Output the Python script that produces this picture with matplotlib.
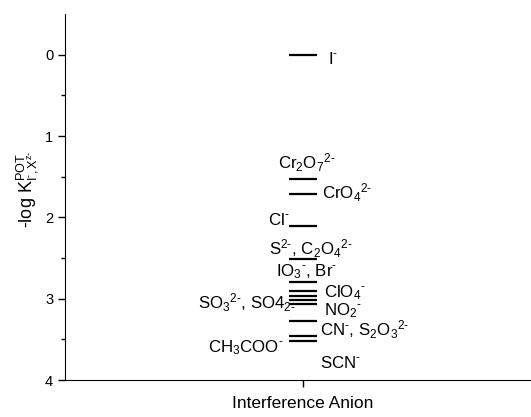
import numpy as np
import matplotlib.pyplot as plt

plt.rcParams['font.family'] = ['Liberation Sans', 'DejaVu Sans']
plt.rcParams['mathtext.fontset'] = 'custom'
plt.rcParams['mathtext.rm'] = 'Liberation Sans'
plt.rcParams['mathtext.it'] = 'Liberation Sans'
plt.rcParams['mathtext.default'] = 'regular'

# valores de -log K
valores = np.array([0.0, 1.53, 1.71, 2.11, 2.51, 2.80, 2.90, 2.97, 3.02, 3.07, 3.28, 3.46, 3.52])

# rótulos dos ânions e onde ficam (x, y em dados); hífen curto nos expoentes
rotulos = ['I$^{‐}$', 'Cr$_2$O$_7$$^{2‐}$', 'CrO$_4$$^{2‐}$', 'Cl$^{‐}$',
           'S$^{2‐}$, C$_2$O$_4$$^{2‐}$', 'IO$_3$$^{‐}$, Br$^{‐}$', 'ClO$_4$$^{‐}$',
           'SO$_3$$^{2‐}$, SO4$_{2‐}$', 'NO$_2$$^{‐}$', 'CN$^{‐}$, S$_2$O$_3$$^{2‐}$',
           'CH$_3$COO$^{‐}$', 'SCN$^{‐}$']
rot_x = [1.107, 0.895, 1.080, 0.853, 0.857, 0.887, 1.088, 0.560, 1.088, 1.071, 0.600, 1.071]
rot_y = [0.11, 1.40, 1.77, 2.10, 2.46, 2.72, 2.98, 3.12, 3.20, 3.46, 3.66, 3.85]

fig = plt.figure(figsize=(5.31, 4.17), dpi=100)
ax = fig.add_axes([0.1224, 0.0887, 0.896, 0.8777])

ax.hlines(valores, 0.94, 1.06, color='black', linewidth=1.6)

for r, x, y in zip(rotulos, rot_x, rot_y):
    ax.text(x, y, r, fontsize=12.2, ha='left', va='baseline')

ax.set_xlim(0, 2)
ax.set_ylim(4, -0.5)
ax.set_xticks([1])
ax.set_xticklabels([''])
ax.set_yticks([0, 1, 2, 3, 4])
ax.set_yticks([0.5, 1.5, 2.5, 3.5], minor=True)
ax.tick_params(axis='both', direction='out', labelsize=10.5, width=1, length=5)
ax.tick_params(axis='y', which='minor', direction='out', width=1, length=3)
ax.spines['top'].set_visible(False)
ax.spines['right'].set_visible(False)

ax.set_xlabel('Interference Anion', fontsize=12.5)
ax.xaxis.set_label_coords(0.5, -0.045)
ax.set_ylabel('-log K$^{POT}_{I^{‐},X^{z‐}}$', fontsize=13)
ax.yaxis.set_label_coords(-0.05, 0.52)

plt.savefig('out.png', dpi=100)
